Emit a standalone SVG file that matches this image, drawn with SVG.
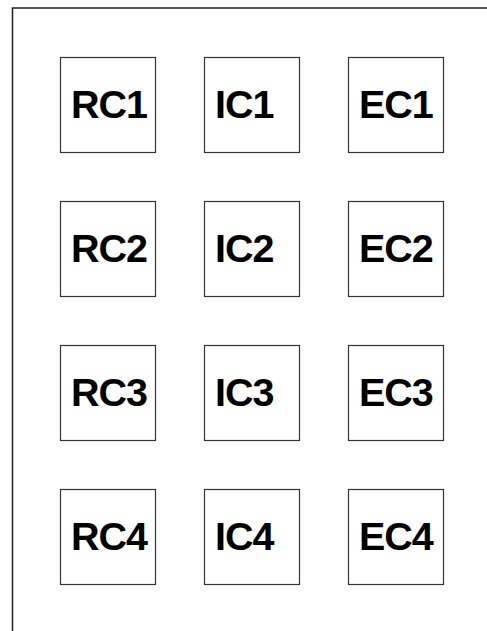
<svg xmlns="http://www.w3.org/2000/svg" width="487" height="631" viewBox="0 0 487 631">
<style>
.frame{fill:none;stroke:#222;stroke-width:1.5}
.box{fill:#fff;stroke:#333;stroke-width:1.2}
.lbl{font-family:"Liberation Sans",Arial,sans-serif;font-weight:bold;font-size:39.5px;letter-spacing:-1px;fill:#000}
</style>
<rect width="487" height="631" fill="#fff"/>
<path class="frame" d="M12.5 640 V8 H500"/>
<g id="nodes">
<g id="RC1"><rect class="box" x="60.5" y="57.5" width="95" height="95"/><text class="lbl" x="71" y="118">RC1</text></g>
<g id="IC1"><rect class="box" x="204.5" y="57.5" width="95" height="95"/><text class="lbl" x="215" y="118">IC1</text></g>
<g id="EC1"><rect class="box" x="348.5" y="57.5" width="95" height="95"/><text class="lbl" x="359" y="118">EC1</text></g>
<g id="RC2"><rect class="box" x="60.5" y="201.5" width="95" height="95"/><text class="lbl" x="71" y="262">RC2</text></g>
<g id="IC2"><rect class="box" x="204.5" y="201.5" width="95" height="95"/><text class="lbl" x="215" y="262">IC2</text></g>
<g id="EC2"><rect class="box" x="348.5" y="201.5" width="95" height="95"/><text class="lbl" x="359" y="262">EC2</text></g>
<g id="RC3"><rect class="box" x="60.5" y="345.5" width="95" height="95"/><text class="lbl" x="71" y="406">RC3</text></g>
<g id="IC3"><rect class="box" x="204.5" y="345.5" width="95" height="95"/><text class="lbl" x="215" y="406">IC3</text></g>
<g id="EC3"><rect class="box" x="348.5" y="345.5" width="95" height="95"/><text class="lbl" x="359" y="406">EC3</text></g>
<g id="RC4"><rect class="box" x="60.5" y="489.5" width="95" height="95"/><text class="lbl" x="71" y="550">RC4</text></g>
<g id="IC4"><rect class="box" x="204.5" y="489.5" width="95" height="95"/><text class="lbl" x="215" y="550">IC4</text></g>
<g id="EC4"><rect class="box" x="348.5" y="489.5" width="95" height="95"/><text class="lbl" x="359" y="550">EC4</text></g>
</g>
<g id="connectors"/>
</svg>
